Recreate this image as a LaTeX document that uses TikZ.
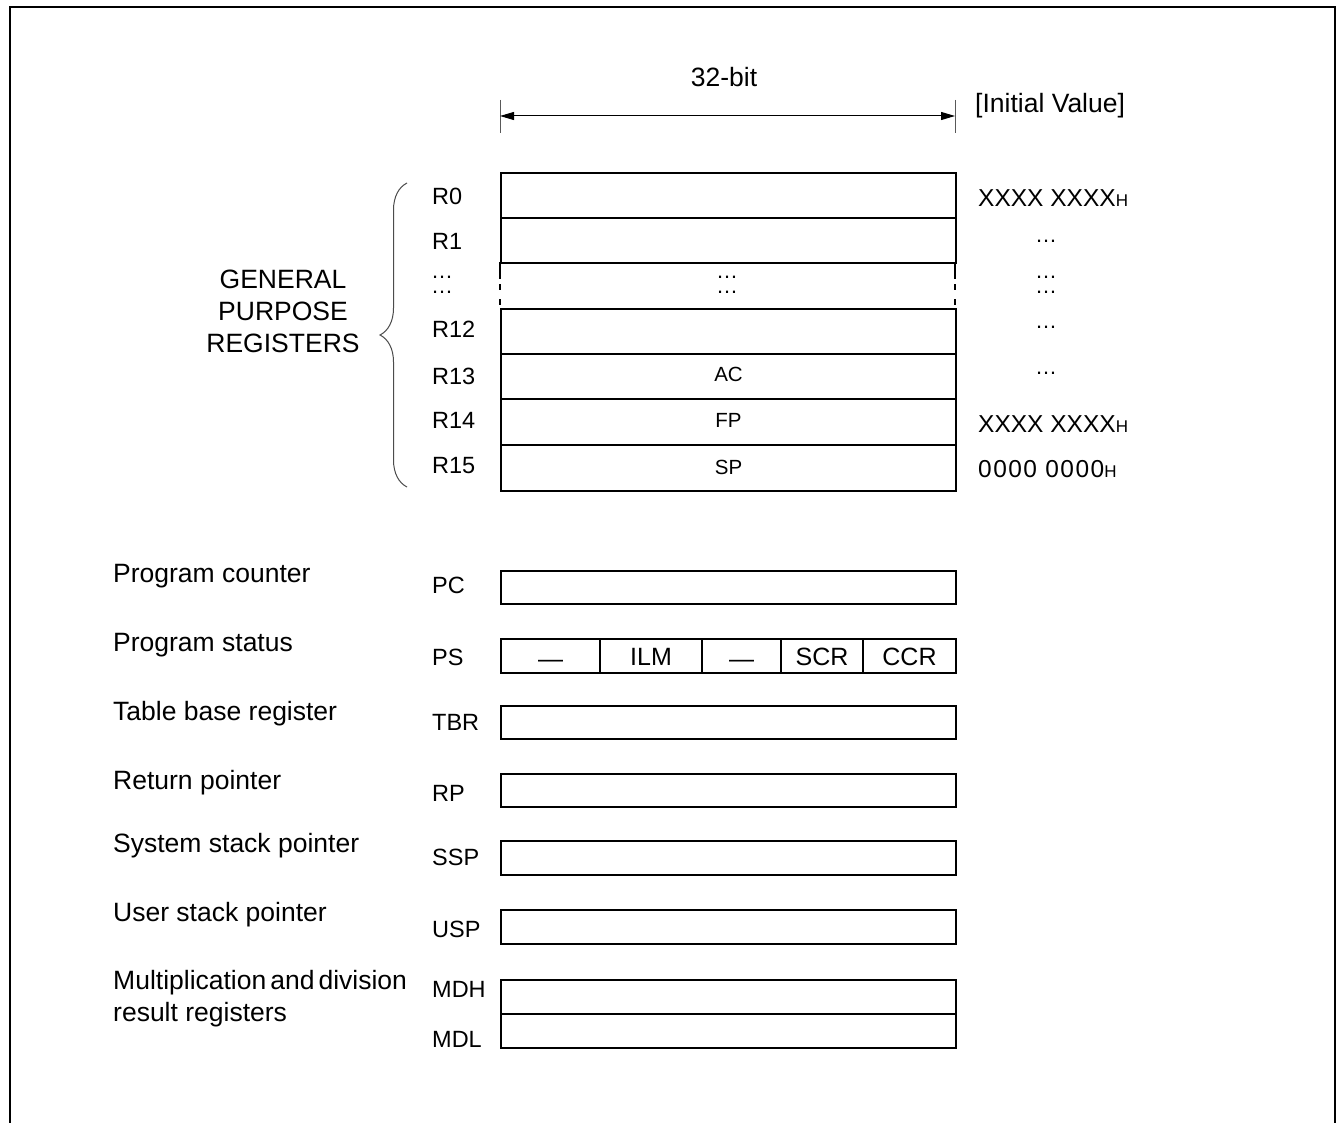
\documentclass[tikz,border=0pt]{standalone}
\usepackage{fontspec}
\setmainfont{Liberation Sans}
\usetikzlibrary{decorations.pathreplacing,arrows.meta}
\begin{document}
\begin{tikzpicture}[x=1pt,y=-1pt,
  regbox/.style={draw,line width=2pt,minimum width=455pt,inner sep=0pt,anchor=north west},
  bigtxt/.style={font=\fontsize{26.5}{32}\selectfont,inner sep=0pt},
  rlab/.style={font=\fontsize{23.5}{26}\selectfont,inner sep=0pt,anchor=west},
  intxt/.style={font=\fontsize{20.5}{22}\selectfont,inner sep=0pt,text height=14.5pt,text depth=0pt},
  ivtxt/.style={font=\fontsize{24.5}{28}\selectfont,inner sep=0pt,anchor=west},
  dots/.style={font=\fontsize{22}{24}\selectfont,inner sep=0pt,text height=3pt,text depth=0pt},
  ddots/.style={font=\fontsize{22}{15.5}\selectfont,inner sep=0pt,align=center},
  fld/.style={draw,line width=2pt,minimum height=34pt,inner sep=0pt,anchor=north west,
    font=\fontsize{25}{28}\selectfont,text height=18pt,text depth=0pt}
]
\useasboundingbox (0,0) rectangle (1337,1123);
\fill[white] (0,0) rectangle (1337,1123);
% outer frame
\draw[line width=2.5pt] (10,1130) -- (10,7) -- (1335,7) -- (1335,1130);

% width dimension
\node[bigtxt] (w32) at (724,77) {32-bit};
\coordinate (dl) at (500,116);
\coordinate (dr) at (955,116);
\draw[gray!70!black,line width=1pt] (500,100) -- (500,133);
\draw[gray!70!black,line width=1pt] (955,100) -- (955,133);
\draw[line width=1pt,{Triangle[length=14pt,width=8pt]}-{Triangle[length=14pt,width=8pt]}] (dl) -- (dr);
\node[bigtxt,anchor=west] (iv) at (975,106) {[Initial Value]};

% general purpose registers
\node[regbox,minimum height=45pt] (r0) at (500,172) {};
\node[regbox,minimum height=45pt] (r1) at (500,217) {};
\node[regbox,minimum height=45pt] (r12) at (500,308) {};
\node[regbox,minimum height=45pt] (r13) at (500,353) {};
\node[regbox,minimum height=46pt] (r14) at (500,398) {};
\node[regbox,minimum height=46pt] (r15) at (500,444) {};
\node[intxt] (tac) at ([yshift=2.5pt]r13.center) {AC};
\node[intxt] (tfp) at ([yshift=2pt]r14.center) {FP};
\node[intxt] (tsp) at ([yshift=1pt]r15.center) {SP};
% broken row sides
\foreach \xx in {500,955}{
  \draw[line width=2pt] (\xx,262) -- (\xx,279);
  \draw[line width=1.5pt] (\xx,284) -- (\xx,290);
  \draw[line width=1.5pt] (\xx,299) -- (\xx,305);
}
\node[ddots,anchor=south] (md) at (727,294) {…\\…};

\node[rlab] (l0) at (432,196) {R0};
\node[rlab] (l1) at (432,241) {R1};
\node[ddots,anchor=south west] (ld) at (431,294) {…\\…};
\node[rlab] (l12) at (432,329) {R12};
\node[rlab] (l13) at (432,376) {R13};
\node[rlab] (l14) at (432,420) {R14};
\node[rlab] (l15) at (432,466) {R15};

% initial values
\node[ivtxt] (v0) at (978,198) {XXXX XXXX{\fontsize{17}{17}\selectfont H}};
\node[dots] (vd1) at (1046,241) {…};
\node[ddots,anchor=south] (vd2) at (1046,294) {…\\…};
\node[dots] (vd4) at (1046,327) {…};
\node[dots] (vd5) at (1046,373) {…};
\node[ivtxt] (v14) at (978,424) {XXXX XXXX{\fontsize{17}{17}\selectfont H}};
\node[ivtxt] (v15) at (978,469) {\addfontfeatures{LetterSpace=6}0000 0000{\fontsize{17}{17}\selectfont H}};

% brace
\draw[gray!60!black,line width=1pt,decorate,decoration={brace,amplitude=27pt}] (407,487) -- (407,183);
\node[bigtxt,align=center] (gpr) at (283,311) {GENERAL\\PURPOSE\\REGISTERS};

% dedicated registers
\node[bigtxt,anchor=west] (tpc) at (113,576) {Program counter};
\node[rlab] (lpc) at (432,585) {PC};
\node[regbox,minimum height=33pt] (pc) at (500,570) {};

\node[bigtxt,anchor=west] (tps) at (113,645) {Program status};
\node[rlab] (lps) at (432,657) {PS};
\node[fld,minimum width=99pt] (ps1) at (500,638) {\raisebox{-2pt}{—}};
\node[fld,minimum width=102pt] (ps2) at (599,638) {ILM};
\node[fld,minimum width=79pt] (ps3) at (701,638) {\raisebox{-2pt}{—}};
\node[fld,minimum width=82pt] (ps4) at (780,638) {SCR};
\node[fld,minimum width=93pt] (ps5) at (862,638) {CCR};

\node[bigtxt,anchor=west] (ttbr) at (113,714) {Table base register};
\node[rlab] (ltbr) at (432,722) {TBR};
\node[regbox,minimum height=33pt] (tbr) at (500,705) {};

\node[bigtxt,anchor=west] (trp) at (113,783) {Return pointer};
\node[rlab] (lrp) at (432,793) {RP};
\node[regbox,minimum height=33pt] (rp) at (500,773) {};

\node[bigtxt,anchor=west] (tssp) at (113,846) {System stack pointer};
\node[rlab] (lssp) at (432,857) {SSP};
\node[regbox,minimum height=34pt] (ssp) at (500,840) {};

\node[bigtxt,anchor=west] (tusp) at (113,915) {User stack pointer};
\node[rlab] (lusp) at (432,929) {USP};
\node[regbox,minimum height=34pt] (usp) at (500,909) {};

\node[bigtxt,anchor=west] (tmd1) at (113,983) {Multiplication\hspace{4pt}and\hspace{4pt}division};
\node[bigtxt,anchor=west] (tmd2) at (113,1015) {result registers};
\node[rlab] (lmdh) at (432,989) {MDH};
\node[rlab] (lmdl) at (432,1039) {MDL};
\node[regbox,minimum height=34pt] (mdh) at (500,979) {};
\node[regbox,minimum height=34pt] (mdl) at (500,1013) {};
\end{tikzpicture}
\end{document}
